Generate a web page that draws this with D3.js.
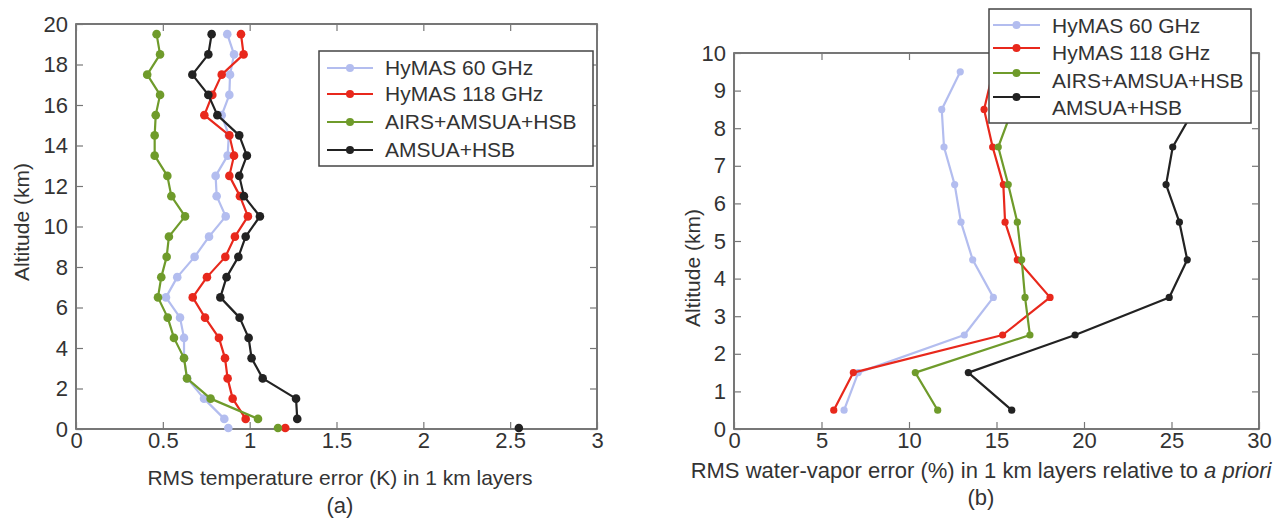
<!DOCTYPE html>
<html>
<head>
<meta charset="utf-8">
<script src="https://cdn.jsdelivr.net/npm/d3@7"></script>
<style>
  body { margin: 0; background: #fff; }
  svg text { font-family: "Liberation Sans", Arial, Helvetica, sans-serif; fill: #333; }
</style>
</head>
<body>
<script>
// series names + colours
var seriesNames = ["HyMAS 60 GHz", "HyMAS 118 GHz", "AIRS+AMSUA+HSB", "AMSUA+HSB"];
var seriesColors = ["#b3bdef", "#e8281c", "#6f9b2b", "#222222"];

// (a) temperature, layer centres 0.5 .. 19.5 km
var altA = [0.5, 1.5, 2.5, 3.5, 4.5, 5.5, 6.5, 7.5, 8.5, 9.5,
  10.5, 11.5, 12.5, 13.5, 14.5, 15.5, 16.5, 17.5, 18.5, 19.5];
var tempBlue = [0.854, 0.737, 0.64, 0.622, 0.622, 0.599, 0.518, 0.583, 0.683, 0.766,
  0.862, 0.81, 0.804, 0.873, 0.88, 0.839, 0.883, 0.887, 0.91, 0.871];
var tempRed = [0.977, 0.902, 0.873, 0.858, 0.823, 0.743, 0.672, 0.754, 0.86, 0.915,
  0.99, 0.944, 0.883, 0.91, 0.883, 0.739, 0.785, 0.839, 0.965, 0.95];
var tempGreen = [1.048, 0.775, 0.639, 0.622, 0.564, 0.528, 0.472, 0.491, 0.522, 0.535,
  0.628, 0.549, 0.526, 0.453, 0.453, 0.459, 0.484, 0.41, 0.484, 0.464];
var tempBlack = [1.274, 1.267, 1.075, 1.011, 0.994, 0.942, 0.831, 0.867, 0.935, 0.977,
  1.059, 0.967, 0.94, 0.984, 0.94, 0.814, 0.762, 0.67, 0.762, 0.781];
// surface values (unconnected dots on the x axis)
var surfAlt = 0.05;
var tempSurface = [0.877, 1.205, 1.163, 2.55];

// (b) water vapour, layer centres 0.5 .. 9.5 km
var altB = [0.5, 1.5, 2.5, 3.5, 4.5, 5.5, 6.5, 7.5, 8.5, 9.5];
var wvBlue = [6.29, 7.1, 13.16, 14.82, 13.64, 12.97, 12.61, 12.0, 11.87, 12.93];
var wvRed = [5.7, 6.82, 15.35, 18.06, 16.19, 15.49, 15.39, 14.78, 14.29, 14.8];
var wvGreen = [11.64, 10.36, 16.91, 16.63, 16.44, 16.19, 15.67, 15.1, 15.9, 16.3];
var wvBlack = [15.87, 13.39, 19.49, 24.87, 25.9, 25.45, 24.69, 25.07, 26.3, 26.5];

// tick values
var ticksAx = [0, 0.5, 1, 1.5, 2, 2.5, 3];
var ticksAy = [0, 2, 4, 6, 8, 10, 12, 14, 16, 18, 20];
var ticksBx = [0, 5, 10, 15, 20, 25, 30];
var ticksBy = [0, 1, 2, 3, 4, 5, 6, 7, 8, 9, 10];

var svg = d3.select('body').append('svg')
  .attr('width', 1286)
  .attr('height', 520);

function drawPanel(p) {
  var x = d3.scaleLinear().domain(p.xDomain).range([p.left, p.right]);
  var y = d3.scaleLinear().domain(p.yDomain).range([p.bottom, p.top]);
  var g = svg.append('g');
  var tk = 7;

  // frame
  g.append('rect')
    .attr('x', p.left).attr('y', p.top)
    .attr('width', p.right - p.left).attr('height', p.bottom - p.top)
    .attr('fill', 'none').attr('stroke', '#555').attr('stroke-width', 1.6);

  var axB = g.append('g').attr('transform', 'translate(0,' + p.bottom + ')')
    .call(d3.axisBottom(x).tickValues(p.xTicks).tickFormat(d3.format('')).tickSize(-tk).tickSizeOuter(0).tickPadding(3));
  var axL = g.append('g').attr('transform', 'translate(' + p.left + ',0)')
    .call(d3.axisLeft(y).tickValues(p.yTicks).tickFormat(d3.format('')).tickSize(-tk).tickSizeOuter(0).tickPadding(8));
  var axT = g.append('g').attr('transform', 'translate(0,' + p.top + ')')
    .call(d3.axisTop(x).tickValues(p.xTicks).tickFormat('').tickSize(-tk).tickSizeOuter(0));
  var axR = g.append('g').attr('transform', 'translate(' + p.right + ',0)')
    .call(d3.axisRight(y).tickValues(p.yTicks).tickFormat('').tickSize(-tk).tickSizeOuter(0));
  [axB, axL, axT, axR].forEach(function(a) {
    a.select('.domain').remove();
    a.selectAll('line').attr('stroke', '#777').attr('stroke-width', 1.2);
    a.selectAll('text').attr('font-size', 22).attr('font-family', null).attr('fill', '#333');
  });

  // lines + dots
  var line = d3.line().x(function(d) { return x(d[0]); }).y(function(d) { return y(d[1]); });
  p.series.forEach(function(vals, i) {
    var pts = vals.map(function(v, k) { return [v, p.alt[k]]; });
    g.append('path').datum(pts)
      .attr('d', line).attr('fill', 'none')
      .attr('stroke', seriesColors[i]).attr('stroke-width', 2.2)
      .attr('stroke-linejoin', 'round');
    g.selectAll(null).data(pts).enter().append('circle')
      .attr('cx', function(d) { return x(d[0]); })
      .attr('cy', function(d) { return y(d[1]); })
      .attr('r', p.r).attr('fill', seriesColors[i]);
  });
  if (p.surface) {
    p.surface.forEach(function(v, i) {
      g.append('circle').attr('cx', x(v)).attr('cy', y(surfAlt))
        .attr('r', p.r).attr('fill', seriesColors[i]);
    });
  }

  // axis titles
  g.append('text')
    .attr('transform', 'translate(' + p.yTitleX + ',' + p.yTitleY + ') rotate(-90)')
    .attr('text-anchor', 'middle').attr('dy', '0.35em')
    .attr('font-size', 21).text('Altitude (km)');
  var xt = g.append('text').attr('x', p.xTitleX).attr('y', p.xTitleY)
    .attr('text-anchor', 'middle').attr('dy', '0.35em').attr('font-size', p.xTitleSize);
  xt.append('tspan').text(p.xTitle);
  if (p.xTitleItalic) xt.append('tspan').attr('font-style', 'italic').text(p.xTitleItalic);
  g.append('text').attr('x', p.xTitleX).attr('y', p.capY)
    .attr('text-anchor', 'middle').attr('dy', '0.35em')
    .attr('font-size', 22).text(p.caption);

  // legend
  var lg = p.legend;
  g.append('rect')
    .attr('x', lg.x0).attr('y', lg.y0)
    .attr('width', lg.x1 - lg.x0).attr('height', lg.y1 - lg.y0)
    .attr('fill', '#fff').attr('stroke', '#444').attr('stroke-width', 1.5);
  seriesNames.forEach(function(name, i) {
    var my = lg.markY[i];
    g.append('line')
      .attr('x1', lg.lineX0).attr('x2', lg.lineX1)
      .attr('y1', my).attr('y2', my)
      .attr('stroke', seriesColors[i]).attr('stroke-width', 2.2);
    g.append('circle').attr('cx', (lg.lineX0 + lg.lineX1) / 2).attr('cy', my)
      .attr('r', 4).attr('fill', seriesColors[i]);
    g.append('text').attr('x', lg.textX).attr('y', lg.textY[i])
      .attr('dy', '0.35em').attr('font-size', 21).text(name);
  });
}

drawPanel({
  xDomain: [0, 3], yDomain: [0, 20],
  left: 76, right: 597, top: 24, bottom: 429,
  xTicks: ticksAx, yTicks: ticksAy,
  alt: altA,
  series: [tempBlue, tempRed, tempGreen, tempBlack],
  surface: tempSurface,
  r: 4.3,
  yTitleX: 22, yTitleY: 222,
  xTitle: 'RMS temperature error (K) in 1 km layers',
  xTitleX: 340, xTitleY: 478, xTitleSize: 21,
  capY: 505, caption: '(a)',
  legend: {
    x0: 319, x1: 593, y0: 51, y1: 166,
    lineX0: 327, lineX1: 373, textX: 385,
    markY: [68, 94, 122, 150], textY: [68, 94, 122, 150]
  }
});

drawPanel({
  xDomain: [0, 30], yDomain: [0, 10],
  left: 734, right: 1259, top: 53, bottom: 429,
  xTicks: ticksBx, yTicks: ticksBy,
  alt: altB,
  series: [wvBlue, wvRed, wvGreen, wvBlack],
  r: 3.6,
  yTitleX: 693, yTitleY: 268,
  xTitle: 'RMS water-vapor error (%) in 1 km layers relative to ',
  xTitleItalic: 'a priori',
  xTitleX: 981, xTitleY: 470, xTitleSize: 22,
  capY: 497, caption: '(b)',
  legend: {
    x0: 989, x1: 1251, y0: 9, y1: 123,
    lineX0: 993, lineX1: 1040, textX: 1052,
    markY: [25, 48, 73, 97], textY: [26, 53, 81, 108]
  }
});
</script>
</body>
</html>
